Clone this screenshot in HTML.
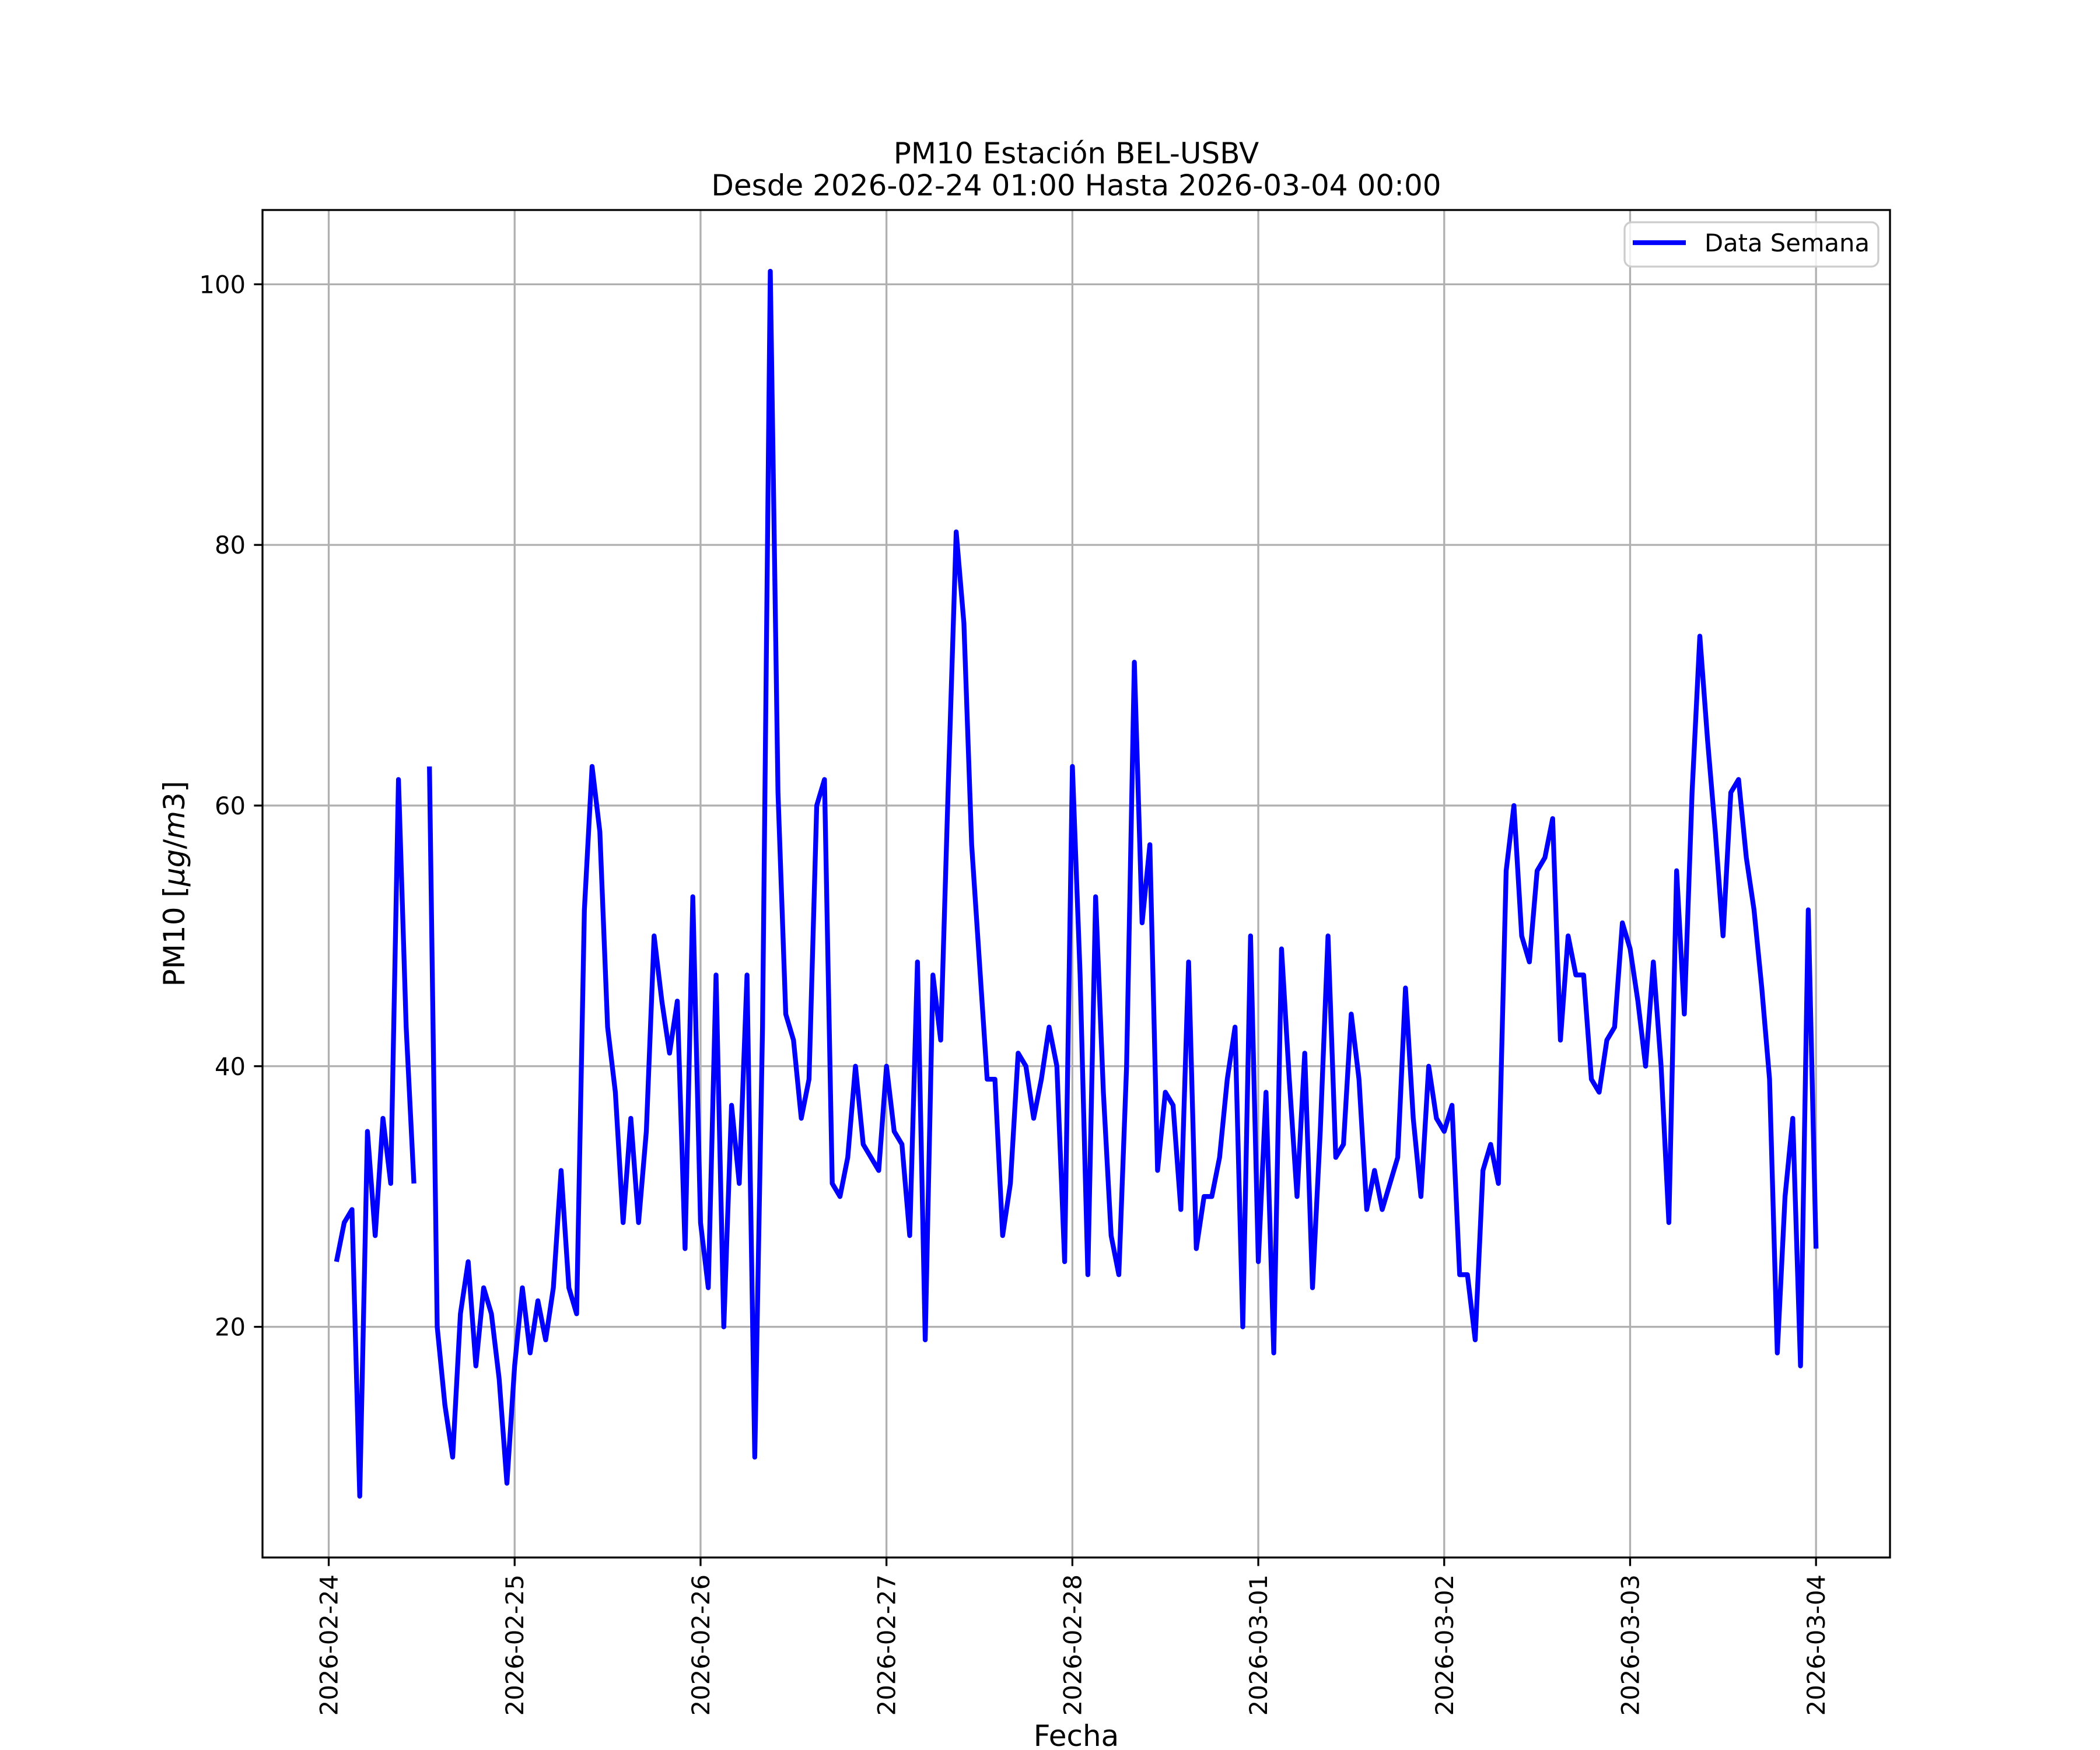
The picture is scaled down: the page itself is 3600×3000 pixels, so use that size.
<!DOCTYPE html>
<html><head><meta charset="utf-8"><style>
html,body{margin:0;padding:0;background:#fff;}
svg{display:block;font-family:"DejaVu Sans","Liberation Sans",sans-serif;}
</style></head><body>
<svg id="chart" width="3600" height="3000" viewBox="0 0 3600 3000" xmlns="http://www.w3.org/2000/svg">
<rect x="0" y="0" width="3600" height="3000" fill="#fff"/>
<g id="grid"></g>
<g id="series"></g>
<rect x="450" y="360" width="2790" height="2310" fill="none" stroke="#000" stroke-width="3.3"/>
<g id="ticks"></g>
<text x="1845" y="280" text-anchor="middle" font-size="50">PM10 Estación BEL-USBV</text>
<text x="1845" y="335" text-anchor="middle" font-size="50">Desde 2026-02-24 01:00 Hasta 2026-03-04 00:00</text>
<text transform="translate(316,1515) rotate(-90)" text-anchor="middle" font-size="50">PM10 [<tspan font-style="italic">μg</tspan>/<tspan font-style="italic">m</tspan>3]</text>
<text x="1845" y="2993" text-anchor="middle" font-size="50">Fecha</text>
<g>
<rect x="2785" y="381" width="435" height="76" rx="12" fill="#fff" fill-opacity="0.8" stroke="#cccccc" stroke-width="3.3"/>
<line x1="2799" y1="416" x2="2890" y2="416" stroke="#0000ff" stroke-width="8.3"/>
<text x="2922" y="431" font-size="41.7">Data Semana</text>
</g>
</svg>
<script>
const startHour = 1; // 2026-02-24 01:00, hourly
const pm10Values = [25,28,29,7,35,27,36,31,62,43,31,null,
63,20,14,10,21,25,17,23,21,16,8,17,23,18,22,19,23,32,23,21,52,63,58,43,38,28,
36,28,35,50,45,41,45,26,53,28,23,47,20,37,31,47,10,43,101,61,44,42,36,39,60,62,31,30,33,40,34,33,32,40,35,34,27,48,
19,47,42,62,81,74,57,48,39,39,27,31,41,40,36,39,43,40,25,63,47,24,53,38,27,24,40,71,51,57,32,38,37,29,48,26,30,30,33,
39,43,20,50,25,38,18,49,39,30,41,23,35,50,33,34,44,39,29,32,29,31,33,46,36,30,40,36,35,37,24,24,19,32,34,31,55,60,
50,48,55,56,59,42,50,47,47,39,38,42,43,51,49,45,40,48,40,28,55,44,61,73,65,58,50,61,62,56,52,46,39,18,30,36,17,52,26];
const xTickLabels = ["2026-02-24","2026-02-25","2026-02-26","2026-02-27","2026-02-28","2026-03-01","2026-03-02","2026-03-03","2026-03-04"];
const yTickValues = [20,40,60,80,100];

const NS = "http://www.w3.org/2000/svg";
const AX = {l:450, r:3240, t:360, b:2670};
const hours = pm10Values.map((v,i)=>startHour+i);
const hMin = hours[0], hMax = hours[hours.length-1];
const valid = pm10Values.filter(v=>v!==null);
const vMin = Math.min(...valid), vMax = Math.max(...valid);
const x0 = hMin-(hMax-hMin)*0.05, x1 = hMax+(hMax-hMin)*0.05;
const y0 = vMin-(vMax-vMin)*0.05, y1 = vMax+(vMax-vMin)*0.05;
function xs(h){return AX.l+(h-x0)/(x1-x0)*(AX.r-AX.l);}
function ys(v){return AX.b-(v-y0)/(y1-y0)*(AX.b-AX.t);}
function mk(tag,attrs){const e=document.createElementNS(NS,tag);for(const k in attrs)e.setAttribute(k,attrs[k]);return e;}

const grid=document.getElementById('grid'), ticks=document.getElementById('ticks'), series=document.getElementById('series');
xTickLabels.forEach((lab,i)=>{
  const x=xs(i*24);
  const g=mk('line',{x1:x,y1:AX.t,x2:x,y2:AX.b,stroke:'#b0b0b0','stroke-width':3.3});
  
  
  grid.appendChild(g);
  const t=mk('line',{x1:x,y1:AX.b,x2:x,y2:AX.b+14.6,stroke:'#000','stroke-width':3.3});
  
  
  ticks.appendChild(t);
  const tx=mk('text',{transform:`translate(${x+15},${AX.b+29}) rotate(-90)`,'text-anchor':'end','font-size':41.7});
  
  
  tx.textContent=lab;
  ticks.appendChild(tx);
});
yTickValues.forEach(v=>{
  const y=ys(v);
  const g=mk('line',{x1:AX.l,y1:y,x2:AX.r,y2:y,stroke:'#b0b0b0','stroke-width':3.3});
  
  
  grid.appendChild(g);
  const t=mk('line',{x1:AX.l-14.6,y1:y,x2:AX.l,y2:y,stroke:'#000','stroke-width':3.3});
  
  
  ticks.appendChild(t);
  const tx=mk('text',{x:AX.l-29,y:y+15,'text-anchor':'end','font-size':41.7});
  
  
  tx.textContent=String(v);
  ticks.appendChild(tx);
});
let d='', pen=false;
pm10Values.forEach((v,i)=>{
  if(v===null){pen=false;return;}
  d+=(pen?'L':'M')+xs(hours[i]).toFixed(1)+' '+ys(v).toFixed(1)+' ';
  pen=true;
});
const p=mk('path',{d:d,fill:'none',stroke:'#0000ff','stroke-width':8.3,'stroke-linejoin':'round','stroke-linecap':'butt'});


series.appendChild(p);
</script>
</body></html>
